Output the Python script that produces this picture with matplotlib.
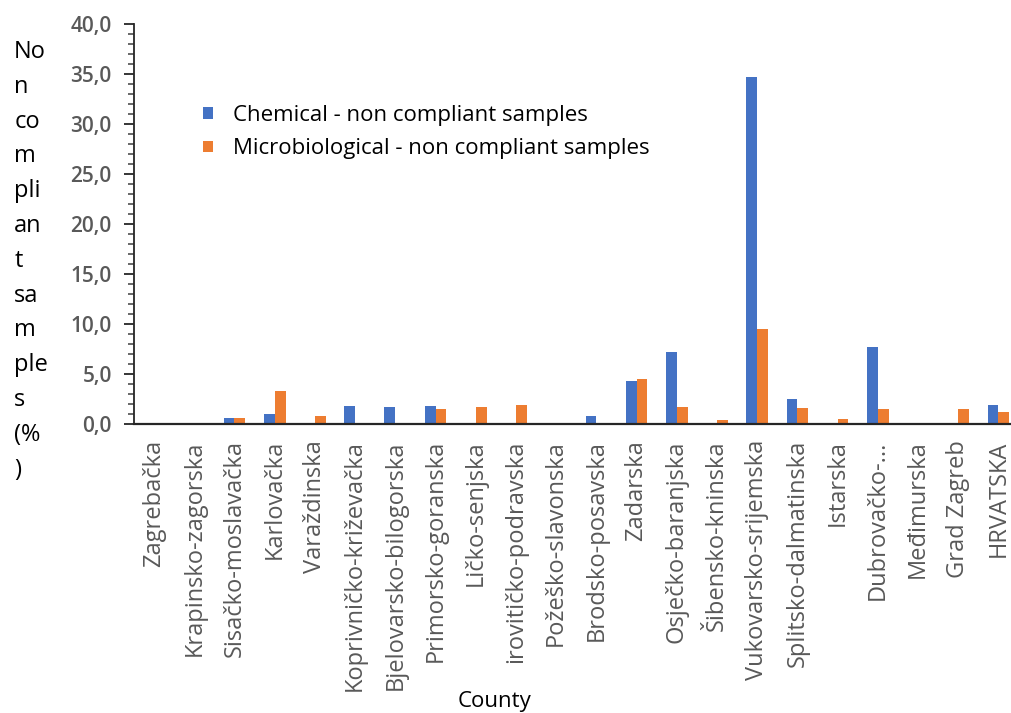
import matplotlib.pyplot as plt
from matplotlib.ticker import MultipleLocator
import numpy as np

plt.rcParams['font.family'] = ['Open Sans', 'DejaVu Sans']

counties = ["Zagrebačka", "Krapinsko-zagorska", "Sisačko-moslavačka", "Karlovačka",
            "Varaždinska", "Koprivničko-križevačka", "Bjelovarsko-bilogorska",
            "Primorsko-goranska", "Ličko-senjska", "irovitičko-podravska",
            "Požeško-slavonska", "Brodsko-posavska", "Zadarska", "Osječko-baranjska",
            "Šibensko-kninska", "Vukovarsko-srijemska", "Splitsko-dalmatinska",
            "Istarska", "Dubrovačko-...", "Međimurska", "Grad Zagreb", "HRVATSKA"]
chemical = [0, 0, 0.6, 1.0, 0, 1.8, 1.7, 1.8, 0, 0, 0, 0.8, 4.3, 7.2, 0, 34.7,
            2.5, 0, 7.7, 0, 0, 1.9]
microbio = [0, 0, 0.6, 3.3, 0.8, 0, 0, 1.5, 1.7, 1.9, 0, 0, 4.5, 1.7, 0.35, 9.5,
            1.6, 0.5, 1.5, 0, 1.5, 1.2]
y_ticks = [0, 5, 10, 15, 20, 25, 30, 35, 40]

grey = '#595959'
x = np.arange(len(counties))
w = 0.27

fig = plt.figure(figsize=(10.11, 7.13), dpi=100)
ax = fig.add_axes([0.1325, 0.406, 0.875, 0.561])

ax.bar(x - w / 2, chemical, w, color='#4472C4', label='Chemical - non compliant samples')
ax.bar(x + w / 2, microbio, w, color='#ED7D31', label='Microbiological - non compliant samples')

ax.set_xlim(-0.5, len(counties) - 0.5)
ax.set_ylim(0, 40)
ax.set_yticks(y_ticks)
ax.set_yticklabels([f"{v:.1f}".replace('.', ',') for v in y_ticks],
                   fontweight='semibold')
ax.yaxis.set_minor_locator(MultipleLocator(1))
ax.set_xticks(x)
ax.set_xticklabels(counties, rotation=90, va='top')

for s in ['top', 'right']:
    ax.spines[s].set_visible(False)
ax.spines['left'].set_color('#262626')
ax.spines['left'].set_linewidth(1.3)
ax.spines['bottom'].set_color('#262626')
ax.spines['bottom'].set_linewidth(1.6)
ax.tick_params(axis='y', which='major', length=7, width=1.3, color='#262626',
               labelsize=15, labelcolor=grey, pad=9)
ax.tick_params(axis='y', which='minor', length=4.5, width=1.1, color='#404040')
ax.tick_params(axis='x', length=0, labelsize=17, labelcolor=grey, pad=12)

ax.legend(loc='upper left', bbox_to_anchor=(0.068, 0.818), frameon=False, fontsize=16,
          handlelength=0.45, handleheight=0.45, handletextpad=0.9, labelspacing=0.55,
          borderaxespad=0)

fig.text(0.014, 0.944, "No\nn\nco\nm\npli\nan\nt\nsa\nm\nple\ns\n(%\n)",
         fontsize=17, va='top', ha='left', linespacing=1.6, color='black')
fig.text(0.489, 0.002, "County", fontsize=16, ha='center', va='bottom', color='black')

fig.savefig('out.png', dpi=100)
